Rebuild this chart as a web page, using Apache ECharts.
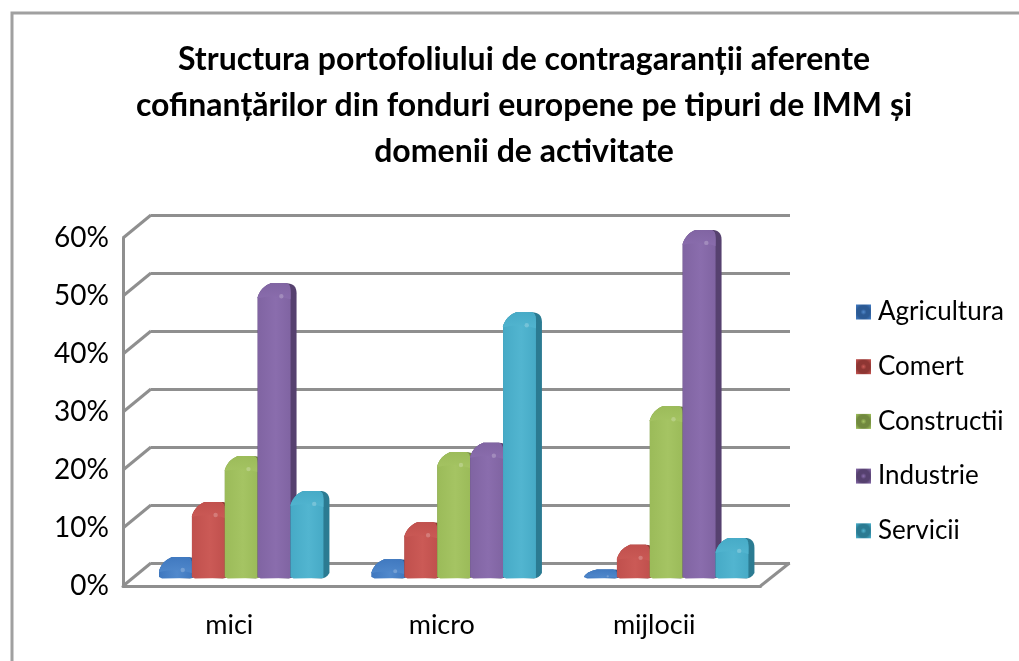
<!DOCTYPE html>
<html><head><meta charset="utf-8">
<style>html,body{margin:0;padding:0;background:#fff}#c{width:1019px;height:661px}</style>
<script src="https://cdn.jsdelivr.net/npm/echarts@6/dist/echarts.min.js"></script>
</head><body><div id="c"></div>
<script>
const titleText = 'Structura portofoliului de contragaranții aferente\ncofinanțărilor din fonduri europene pe tipuri de IMM și\ndomenii de activitate';
const categories = ['mici', 'micro', 'mijlocii'];
const yTicks = [0, 0.1, 0.2, 0.3, 0.4, 0.5, 0.6];
const agricultura = [0.012, 0.010, 0.002];
const comert = [0.107, 0.072, 0.033];
const constructii = [0.186, 0.193, 0.272];
const industrie = [0.484, 0.209, 0.576];
const servicii = [0.126, 0.434, 0.045];
const seriesNames = ['Agricultura', 'Comert', 'Constructii', 'Industrie', 'Servicii'];
const seriesValues = [agricultura, comert, constructii, industrie, servicii];
const faceColors = ['#3f78bf', '#c0504d', '#9bbb59', '#8064a2', '#46aac6'];
const lightColors = ['#5189cc', '#cb5a56', '#a5c463', '#8a6dad', '#52b5d0'];
const darkColors = ['#2c5a94', '#8e3633', '#71893f', '#56416f', '#2b7b92'];
const FONT = 'Lato';
const GRAY = '#8f8f8f';

function quad(p0, p1, p2, n) {
  const out = [];
  for (let i = 1; i <= n; i++) {
    const t = i / n, u = 1 - t;
    out.push([u*u*p0[0] + 2*u*t*p1[0] + t*t*p2[0], u*u*p0[1] + 2*u*t*p1[1] + t*t*p2[1]]);
  }
  return out;
}

function barRender(idx) {
  return function (params, api) {
    const pt = api.coord([api.value(0), api.value(1)]);
    const zero = api.coord([api.value(0), 0]);
    const band = api.size([1, 0])[0];
    const w = band * 0.1547;
    const x = zero[0] + 12 + (idx - 2.5) * w;
    const b = zero[1] - 8;
    const s = pt[1] - 8;
    const cap = Math.min(14, 6 + (b - s) * 1.2);
    const c = s - cap;
    const side = 6, f = cap / 14;
    const left = [[x, b - 1], [x, s]].concat(quad([x, s], [x + 3, c + 4*f], [x + 13, c], 10));
    const sil = left.concat([[x + w - 4, c]], quad([x + w - 4, c], [x + w + side, c], [x + w + side, c + 10*f], 8),
      [[x + w + side, b - 5*f]], quad([x + w + side, b - 5*f], [x + w + 3, b], [x + w - 2, b + 0.5], 4));
    const front = left.concat([[x + w - 4, c]], quad([x + w - 4, c], [x + w, c + 1], [x + w, c + 7*f], 4),
      [[x + w, b]], [[x + 3, b + 0.5]]);
    const capPoly = left.slice(1).concat([[x + w - 4, c]], quad([x + w - 4, c], [x + w + 1, c + 1], [x + w, s + 2*f], 4),
      quad([x + w, s + 2*f], [x + w / 2, s - 3*f], [x, s + 1*f], 8));
    const grad = new echarts.graphic.LinearGradient(0, 0, 1, 0, [
      { offset: 0, color: faceColors[idx] }, { offset: 0.55, color: lightColors[idx] }, { offset: 1, color: faceColors[idx] }]);
    const capGrad = new echarts.graphic.LinearGradient(0, 0, 0, 1, [
      { offset: 0, color: faceColors[idx] }, { offset: 1, color: lightColors[idx] }]);
    return { type: 'group', children: [
      { type: 'polygon', shape: { points: sil }, style: { fill: darkColors[idx] } },
      { type: 'polygon', shape: { points: front }, style: { fill: grad } },
      { type: 'polygon', shape: { points: capPoly }, style: { fill: capGrad, opacity: 0.9 } },
      { type: 'circle', shape: { cx: x + w * 0.72, cy: s - 1*f, r: 2.2*f }, style: { fill: '#ffffff', opacity: 0.22 } }
    ] };
  };
}

function wallRender(params, api) {
  const p = api.coord([0, api.value(0)]);
  const x0 = p[0] - api.size([1, 0])[0] / 2;
  return { type: 'line', shape: { x1: x0, y1: p[1], x2: x0 + 28, y2: p[1] - 23 },
    style: { stroke: GRAY, lineWidth: 3 } };
}
function floorRender(params, api) {
  const p = api.coord([2, 0]);
  const x0 = p[0] + api.size([1, 0])[0] / 2;
  return { type: 'line', shape: { x1: x0, y1: p[1], x2: x0 + 29, y2: p[1] - 23 },
    style: { stroke: GRAY, lineWidth: 3 } };
}

const chart = echarts.init(document.getElementById('c'), null, { renderer: 'canvas' });
chart.setOption({
  animation: false,
  backgroundColor: '#ffffff',
  title: { text: titleText, left: 519, top: 32, textAlign: 'center',
    textStyle: { fontFamily: FONT, fontWeight: 'bold', fontSize: 32, lineHeight: 46, color: '#000' } },
  legend: { orient: 'vertical', left: 851, top: 294, itemWidth: 15, itemHeight: 15, itemGap: 28.7,
    selectedMode: false, icon: 'rect',
    textStyle: { fontFamily: FONT, fontSize: 26, color: '#000', padding: [0, 0, 0, 2] },
    data: seriesNames.map((n, i) => ({ name: n, itemStyle: {
      color: new echarts.graphic.RadialGradient(0.5, 0.5, 0.65, [
        { offset: 0, color: lightColors[i] }, { offset: 0.3, color: darkColors[i] }, { offset: 0.65, color: darkColors[i] }, { offset: 1, color: faceColors[i] }]) } })) },
  grid: [
    { left: 123, width: 637.5, top: 238, height: 348 },
    { left: 151, width: 639, top: 215, height: 348 }
  ],
  xAxis: [
    { type: 'category', gridIndex: 0, data: categories, axisTick: { show: false },
      axisLine: { lineStyle: { color: GRAY, width: 3 } },
      axisLabel: { fontFamily: FONT, fontSize: 27, color: '#000', margin: 26 } },
    { type: 'category', gridIndex: 1, data: categories, show: false }
  ],
  yAxis: [
    { type: 'value', gridIndex: 0, min: 0, max: 0.6, interval: 0.1,
      axisLine: { show: true, lineStyle: { color: GRAY, width: 3 } }, axisTick: { show: false },
      splitLine: { show: false },
      axisLabel: { fontFamily: FONT, fontSize: 28, color: '#000', margin: 14, padding: [8, 0, 0, 0],
        formatter: v => Math.round(v * 100) + '%' } },
    { type: 'value', gridIndex: 1, min: 0, max: 0.6, interval: 0.1,
      axisLine: { show: false }, axisTick: { show: false }, axisLabel: { show: false },
      splitLine: { show: true, lineStyle: { color: GRAY, width: 3 } } }
  ],
  series: [
    { type: 'custom', name: 'walls', xAxisIndex: 0, yAxisIndex: 0, silent: true, z: 1, clip: false,
      coordinateSystem: 'cartesian2d', encode: { y: 0 }, data: yTicks.map(v => [v]), renderItem: wallRender },
    { type: 'custom', name: 'floor', xAxisIndex: 0, yAxisIndex: 0, silent: true, z: 1, clip: false,
      coordinateSystem: 'cartesian2d', data: [[0]], renderItem: floorRender }
  ].concat(seriesNames.map((name, i) => ({
    type: 'custom', name, xAxisIndex: 0, yAxisIndex: 0, z: 3 + i, clip: false,
    coordinateSystem: 'cartesian2d', encode: { x: 0, y: 1 },
    itemStyle: { color: faceColors[i] },
    data: seriesValues[i].map((v, k) => [k, v]),
    renderItem: barRender(i)
  }))),
  graphic: [
    { type: 'polyline', silent: true, shape: { points: [[12, 661], [12, 13], [1019, 13]] },
      style: { stroke: '#a0a0a0', lineWidth: 3, fill: null } }
  ]
});
</script></body></html>
